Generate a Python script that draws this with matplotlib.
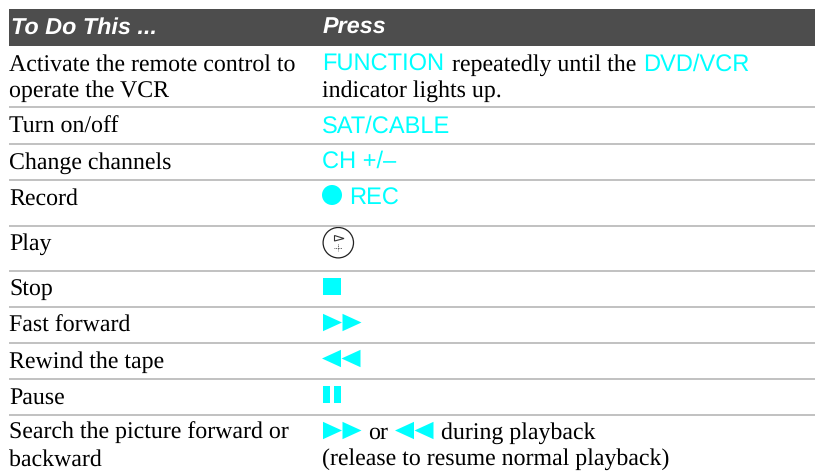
import matplotlib
matplotlib.use("Agg")
import matplotlib.pyplot as plt
from matplotlib.patches import Polygon, Circle, Rectangle

plt.rcParams["text.hinting"] = "no_hinting"
plt.rcParams["text.hinting_factor"] = 8

W, H = 815, 473
CYAN = "#00FFFF"
SERIF = "Liberation Serif"
SANS = "Liberation Sans"

headers = ["To Do This ...", "Press"]
actions = ["Activate the remote control to\noperate the VCR", "Turn on/off", "Change channels",
           "Record", "Play", "Stop", "Fast forward", "Rewind the tape", "Pause",
           "Search the picture forward or\nbackward"]
action_base = [70, 132.5, 168, 204, 249.5, 295.5, 331.5, 367, 403, 438.5]
rules = [107.5, 144, 180, 226, 271, 307, 343, 379, 414.5]

fig = plt.figure(figsize=(W / 100, H / 100), dpi=100)
ax = fig.add_axes([0, 0, 1, 1])
ax.set_xlim(0, W)
ax.set_ylim(H, 0)
ax.axis("off")

FS = 17.16
SFS = 17.0
HFS = 16.85
LX, RX = 9, 322
DY = 0.6


def txt(x, y, s, font=SERIF, color="black", size=FS, **kw):
    return ax.text(x, y + DY, s, family=font, color=color, fontsize=size, va="baseline", ha="left", **kw)


def ff(x, y, flip=False):
    for i in (0, 1):
        x0 = x + i * 19.5
        if flip:
            pts = [(x0, y + 8.7), (x0 + 19, y), (x0 + 19, y + 17.4)]
        else:
            pts = [(x0, y), (x0 + 19, y + 8.7), (x0, y + 17.4)]
        ax.add_patch(Polygon(pts, closed=True, fc=CYAN, ec="none"))


ax.add_patch(Rectangle((9, 9), W - 9, 37, fc="#4d4d4d", ec="none"))
txt(LX + 2, 33.3, headers[0], SANS, "white", HFS, weight="bold", style="italic")
txt(RX + 1, 33.3, headers[1], SANS, "white", HFS, weight="bold", style="italic")

for y in rules:
    ax.plot([9, W], [y, y], color="#b0b0b0", lw=1.1, solid_capstyle="butt")

for a, y in zip(actions, action_base):
    lines = a.split("\n")
    for i, line in enumerate(lines):
        txt(LX, y + i * 26.3, line)

# Press column
txt(RX, 70.5, "FUNCTION", SANS, CYAN, SFS)
txt(451.5, 70, "repeatedly until the")
txt(643, 70.5, "DVD/VCR", SANS, CYAN, SFS)
txt(RX, 96, "indicator lights up.")
txt(RX, 131.8, "SAT/CABLE", SANS, CYAN, SFS)
txt(RX, 167.6, "CH +/\u2013", SANS, CYAN, SFS)
ax.add_patch(Circle((332, 195), 10, fc=CYAN, ec="none"))
txt(349, 204, "REC", SANS, CYAN, SFS)

# Play button
ax.add_patch(Circle((338.3, 242.7), 15.2, fc="white", ec="#222222", lw=0.9))
ax.add_patch(Polygon([(334.5, 235.5), (344, 238.5), (334.5, 241)], closed=True, fc="white", ec="#333333", lw=0.8))
ax.plot([334, 342], [247.5, 247.5], color="#333333", lw=0.6, ls=(0, (1, 1)))
ax.plot([338, 338], [244, 251], color="#333333", lw=0.6, ls=(0, (1, 1)))

ax.add_patch(Rectangle((323, 277.7), 18, 17.4, fc=CYAN, ec="none"))
ff(323, 313.8)
ff(322, 349.8, flip=True)
ax.add_patch(Rectangle((323, 385.6), 7.2, 17.4, fc=CYAN, ec="none"))
ax.add_patch(Rectangle((334, 385.6), 7.2, 17.4, fc=CYAN, ec="none"))
ff(323, 421.8)
txt(368, 438.5, "or")
ff(395, 421.8, flip=True)
txt(441, 438.5, "during playback")
txt(RX, 464.5, "(release to resume normal playback)")

fig.savefig("out.png", dpi=100, facecolor="white")
